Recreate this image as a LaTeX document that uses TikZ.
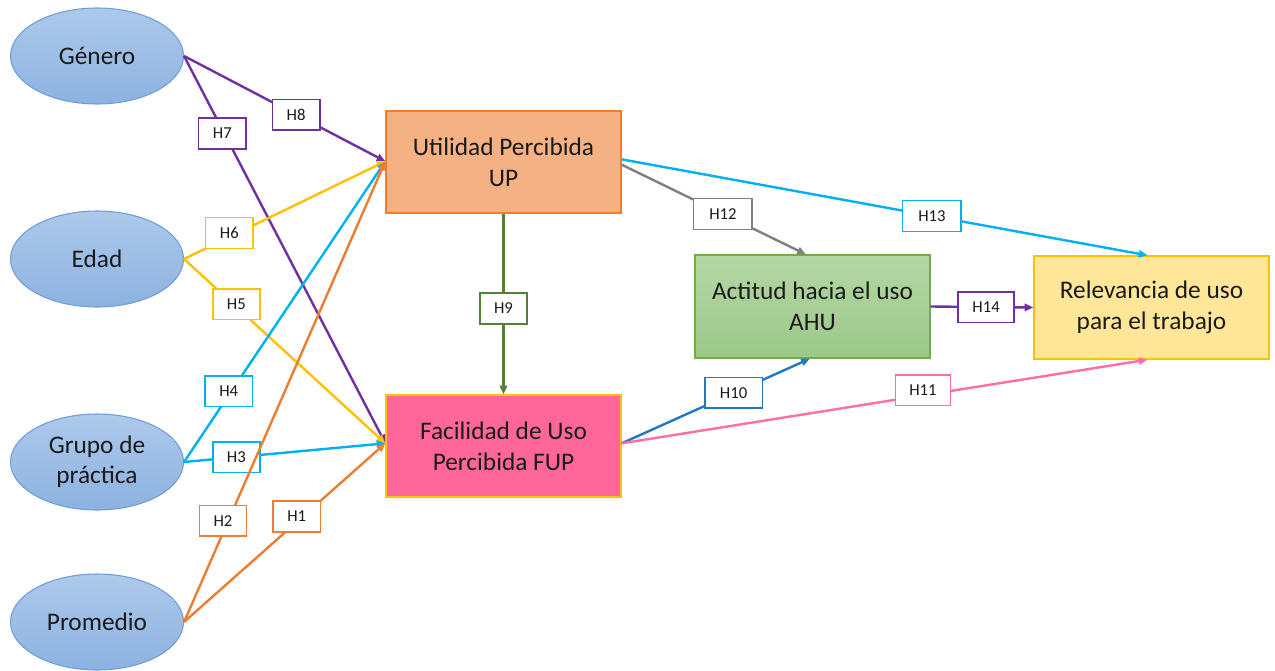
\documentclass[tikz,border=0pt]{standalone}
\usepackage{fontspec}
\setmainfont{Carlito}
\usetikzlibrary{arrows.meta,shapes.geometric}
\definecolor{cPurple}{HTML}{7030A0}
\definecolor{cYellow}{HTML}{FFC000}
\definecolor{cCyan}{HTML}{00B0F0}
\definecolor{cOrange}{HTML}{ED7D31}
\definecolor{cGreen}{HTML}{548235}
\definecolor{cGray}{HTML}{808080}
\definecolor{cBlue}{HTML}{1F78C8}
\definecolor{cPink}{HTML}{FF6FA3}
\definecolor{ellTop}{HTML}{ADC9EB}
\definecolor{ellBot}{HTML}{8DB2E0}
\definecolor{ellLine}{HTML}{6E9FD6}
\definecolor{upFill}{HTML}{F4B183}
\definecolor{fupFill}{HTML}{FF6699}
\definecolor{ahuTop}{HTML}{B5D7A5}
\definecolor{ahuBot}{HTML}{9BC889}
\definecolor{ahuLine}{HTML}{70AD47}
\definecolor{relFill}{HTML}{FFE699}
\definecolor{txt}{HTML}{1A1A1A}
\begin{document}
\begin{tikzpicture}[x=0.75pt,y=-0.75pt,
  var/.style={ellipse, draw=ellLine, line width=0.8pt, top color=ellTop, bottom color=ellBot,
    minimum width=129.75pt, minimum height=72pt, inner sep=0pt, align=center,
    font=\fontsize{19}{22.5}\selectfont, text=txt},
  construct/.style={rectangle, line width=1pt, minimum width=176.25pt, minimum height=76.5pt,
    inner sep=0pt, align=center, font=\fontsize{19}{23}\selectfont, text=txt},
  link/.style={line width=1.8pt, -{Triangle[length=6.5pt,width=5.5pt]}},
  hlab/.style={rectangle, fill=white, line width=1.2pt, minimum width=35.5pt, minimum height=23pt,
    inner sep=0pt, font=\fontsize{12.5}{14}\selectfont, text=txt}
]
\useasboundingbox (0,0) rectangle (1275,671);

% exogenous variables
\node[var] (gen) at (97,56) {Género};
\node[var] (edad) at (97,259) {Edad};
\node[var] (grupo) at (97,462) {Grupo de\\práctica};
\node[var] (prom) at (97,622) {Promedio};

% constructs
\node[construct, draw=cOrange, fill=upFill] (up) at (503.5,162) {Utilidad Percibida\\UP};
\node[construct, draw=cYellow, fill=fupFill] (fup) at (503.5,446) {Facilidad de Uso\\Percibida FUP};
\node[construct, draw=ahuLine, top color=ahuTop, bottom color=ahuBot, minimum height=77.25pt] (ahu) at (812.5,306.5) {Actitud hacia el uso\\AHU};
\node[construct, draw=cYellow, fill=relFill, minimum height=77.25pt] (rel) at (1151.5,307.5) {Relevancia de uso\\para el trabajo};

% hypotheses from the exogenous variables
\draw[link, cPurple] (gen.east) -- node[hlab, draw=cPurple, pos=0.557] {H8} ([yshift=0.5pt]up.west);
\draw[link, cPurple] (gen.east) -- node[hlab, draw=cPurple, pos=0.2, xshift=-1.5pt] {H7} ([yshift=2pt]fup.west);
\draw[link, cYellow] (edad.east) -- node[hlab, draw=cYellow, pos=0.225, yshift=3pt] {H6} ([yshift=0.5pt]up.west);
\draw[link, cYellow] (edad.east) -- node[hlab, draw=cYellow, pos=0.26, yshift=2pt] {H5} ([yshift=2pt]fup.west);
\draw[link, cCyan] (grupo.east) -- node[hlab, draw=cCyan, pos=0.235, xshift=-2pt] {H4} ([yshift=0.5pt]up.west);
\draw[link, cCyan] (grupo.east) -- node[hlab, draw=cCyan, pos=0.26] {H3} ([yshift=2pt]fup.west);
\draw[link, cOrange] (prom.east) -- node[hlab, draw=cOrange, pos=0.22, xshift=-4pt] {H2} ([yshift=0.5pt]up.west);
\draw[link, cOrange] (prom.east) -- node[hlab, draw=cOrange, pos=0.56, yshift=4pt] {H1} ([yshift=2pt]fup.west);

% hypotheses between constructs
\draw[link, cGreen] (up.south) -- node[hlab, draw=cGreen, pos=0.525] {H9} (fup.north);
\draw[link, cGray] ([yshift=-2pt]up.east) -- node[hlab, draw=cGray, pos=0.55, minimum width=44pt] {H12} ([xshift=-5pt]ahu.north);
\draw[link, cCyan] ([yshift=2pt]up.east) -- node[hlab, draw=cCyan, pos=0.59, minimum width=44pt] {H13} ([xshift=-3pt]rel.north);
\draw[link, cBlue] ([yshift=2pt]fup.east) -- node[hlab, draw=cBlue, pos=0.595, minimum width=43pt] {H10} ([xshift=-2pt]ahu.south);
\draw[link, cPink] ([yshift=2pt]fup.east) -- node[hlab, draw=cPink, pos=0.573, yshift=4pt, minimum width=41pt] {H11} ([xshift=-3pt]rel.south);
\draw[link, cPurple] (ahu.east) -- node[hlab, draw=cPurple, pos=0.54, minimum width=42pt] {H14} (rel.west);
\end{tikzpicture}
\end{document}
